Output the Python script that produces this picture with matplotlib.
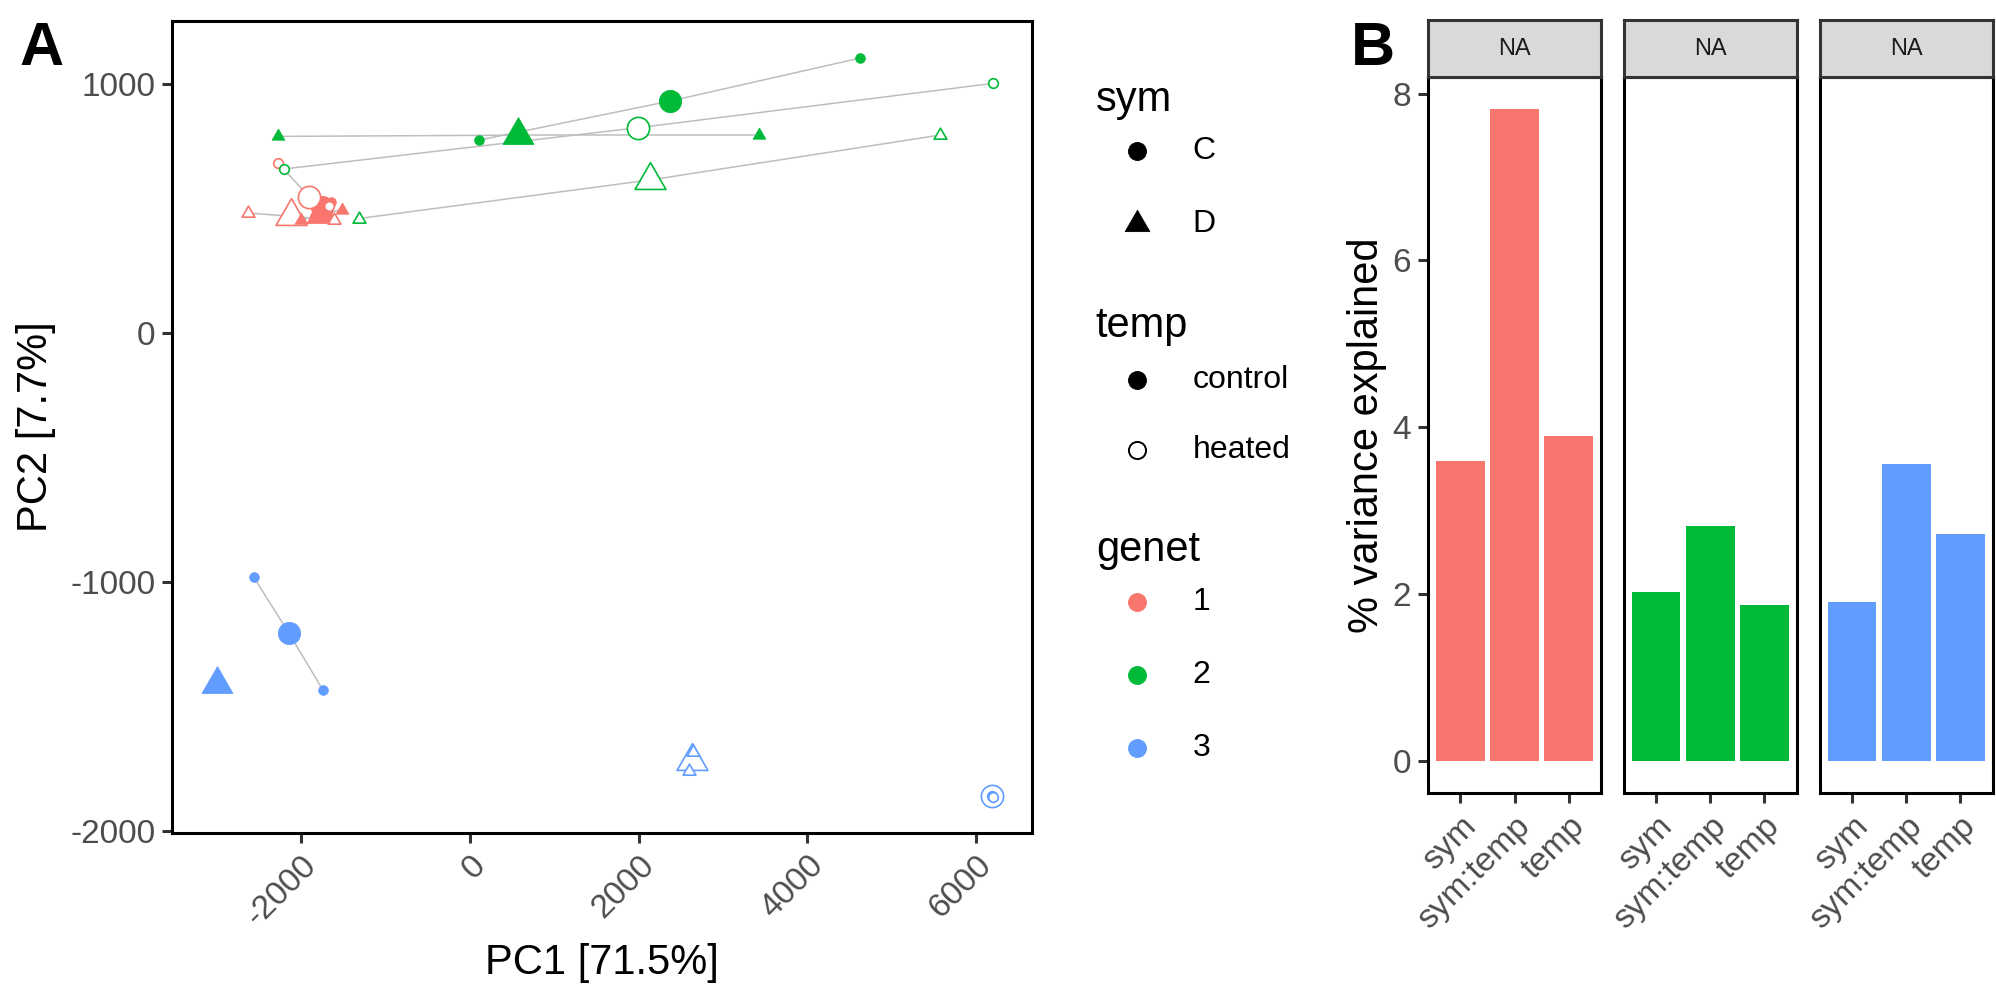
import matplotlib
matplotlib.use("Agg")
import matplotlib.pyplot as plt
from matplotlib.path import Path
import numpy as np

plt.rcParams['font.family'] = ['Liberation Sans', 'DejaVu Sans']

# ---------------- data: panel A ----------------
genet = [1, 1, 1, 1, 2, 2, 2, 2, 3, 3, 3, 3]
sym = ['C', 'C', 'D', 'D'] * 3
temp = ['control', 'heated', 'control', 'heated'] * 3
cent_x = [-1750, -1908, -1754, -2121, 2373, 1998, 575, 2139, -2141, 6190, -2995, 2630]
cent_y = [505, 548, 478, 469, 932, 825, 795, 615, -1208, -1862, -1410, -1722]
s1_x = [-1840, -2268, -1995, -2623, 4627, 6199, 3429, 5566, -2560, 6190, -3040, 2650]
s1_y = [470, 682, 455, 482, 1105, 1003, 795, 795, -982, -1862, -1405, -1683]
s2_x = [-1640, -1667, -1513, -1612, 110, -2205, -2279, -1312, -1738, 6195, -2950, 2600]
s2_y = [525, 511, 495, 454, 775, 659, 790, 460, -1437, -1864, -1415, -1761]

xticks_A = [-2000, 0, 2000, 4000, 6000]
yticks_A = [-2000, -1000, 0, 1000]
xlabel_A = "PC1 [71.5%]"
ylabel_A = "PC2 [7.7%]"

# ---------------- data: panel B ----------------
terms = ["sym", "sym:temp", "temp"]
var_genet1 = [3.59, 7.81, 3.90]
var_genet2 = [2.03, 2.82, 1.87]
var_genet3 = [1.90, 3.56, 2.72]
strip_labels = ["NA", "NA", "NA"]
yticks_B = [0, 2, 4, 6, 8]

genet_colors = {1: '#F8766D', 2: '#00BA38', 3: '#619CFF'}

# legend content
sym_levels = ['C', 'D']
temp_levels = ['control', 'heated']
genet_levels = ['1', '2', '3']

tri = Path([(0, 1), (-0.866, -0.5), (0.866, -0.5), (0, 1)],
           [Path.MOVETO, Path.LINETO, Path.LINETO, Path.CLOSEPOLY])

TICK_COL = '#4D4D4D'
TICK_FS = 12
TITLE_FS = 15
fig = plt.figure(figsize=(9.98, 4.99), dpi=200)

# ---------------- panel A ----------------
ax = fig.add_axes([0.0864, 0.1653, 0.4306, 0.8137])
ax.set_xlim(-3524, 6661)
ax.set_ylim(-2010, 1254)

for i in range(len(genet)):
    for sx, sy in ((s1_x[i], s1_y[i]), (s2_x[i], s2_y[i])):
        ax.plot([cent_x[i], sx], [cent_y[i], sy], color='#BEBEBE', lw=0.55,
                zorder=1, solid_capstyle='butt')


def draw_pt(x, y, g, sh, tp, size_c, size_t, z):
    col = genet_colors[g]
    marker = 'o' if sh == 'C' else tri
    s = size_c if sh == 'C' else size_t
    if tp == 'control':
        ax.scatter([x], [y], s=s, marker=marker, facecolor=col,
                   edgecolor=col, linewidths=0.3, zorder=z)
    else:
        ax.scatter([x], [y], s=s, marker=marker, facecolor='white',
                   edgecolor=col, linewidths=0.6, zorder=z)


for i in range(len(genet)):
    draw_pt(cent_x[i], cent_y[i], genet[i], sym[i], temp[i], 64, 165, 2 + genet[i] * 0.1)
for i in range(len(genet)):
    for sx, sy in ((s1_x[i], s1_y[i]), (s2_x[i], s2_y[i])):
        draw_pt(sx, sy, genet[i], sym[i], temp[i], 12, 28, 3 + genet[i] * 0.1)

ax.set_xticks(xticks_A)
ax.set_xticklabels([str(v) for v in xticks_A], rotation=45, ha='right',
                   va='top', rotation_mode='anchor')
ax.set_yticks(yticks_A)
ax.set_yticklabels([str(v) for v in yticks_A])
ax.tick_params(length=3.6, width=1.1, color='#333333', labelsize=TICK_FS,
               labelcolor=TICK_COL, pad=2.5)
for sp in ax.spines.values():
    sp.set_linewidth(1.1)
    sp.set_color('black')
ax.set_xlabel(xlabel_A, fontsize=TITLE_FS, labelpad=4)
ax.set_ylabel(ylabel_A, fontsize=TITLE_FS, labelpad=5)

# ---------------- legend (panel A) ----------------
lg = fig.add_axes([0, 0, 1, 1])
lg.set_xlim(0, 1)
lg.set_ylim(0, 1)
lg.axis('off')
kx, tx, titx = 0.5695, 0.5975, 0.549
LEG_FS = 11.5
lg.text(titx, 0.900, 'sym', fontsize=TITLE_FS, va='center', ha='left')
for lab, yy, mk, ss in zip(sym_levels, [0.849, 0.776], ['o', tri], [42, 105]):
    lg.scatter([kx], [yy], s=ss, marker=mk, facecolor='black', edgecolor='black', linewidths=0.3)
    lg.text(tx, yy, lab, fontsize=LEG_FS, va='center', ha='left')
lg.text(titx, 0.673, 'temp', fontsize=TITLE_FS, va='center', ha='left')
for lab, yy in zip(temp_levels, [0.619, 0.549]):
    if lab == 'control':
        lg.scatter([kx], [yy], s=42, marker='o', facecolor='black', edgecolor='black', linewidths=0.3)
    else:
        lg.scatter([kx], [yy], s=38, marker='o', facecolor='white', edgecolor='black', linewidths=0.7)
    lg.text(tx, yy, lab, fontsize=LEG_FS, va='center', ha='left')
lg.text(titx, 0.449, 'genet', fontsize=TITLE_FS, va='center', ha='left')
for lab, yy in zip(genet_levels, [0.397, 0.324, 0.251]):
    c = genet_colors[int(lab)]
    lg.scatter([kx], [yy], s=42, marker='o', facecolor=c, edgecolor=c, linewidths=0.3)
    lg.text(tx, yy, lab, fontsize=LEG_FS, va='center', ha='left')

# panel letters
lg.text(0.021, 0.950, 'A', fontsize=22, fontweight='bold', ha='center', va='center')
lg.text(0.688, 0.950, 'B', fontsize=22, fontweight='bold', ha='center', va='center')

# ---------------- panel B ----------------
lefts = [0.7154, 0.8134, 0.9116]
wB = 0.0869
bottomB, topB, stripH = 0.205, 0.923, 0.0565
values = [var_genet1, var_genet2, var_genet3]
cols = [genet_colors[1], genet_colors[2], genet_colors[3]]
xpos = np.arange(1, len(terms) + 1)
for k in range(3):
    axb = fig.add_axes([lefts[k], bottomB, wB, topB - bottomB])
    axb.bar(xpos, values[k], width=0.9, color=cols[k], zorder=2)
    axb.set_xlim(0.4, 3.6)
    axb.set_ylim(-0.39, 8.2)
    axb.set_xticks(xpos)
    axb.set_xticklabels(terms, rotation=45, ha='right', va='top', rotation_mode='anchor')
    axb.set_yticks(yticks_B)
    if k == 0:
        axb.set_yticklabels([str(v) for v in yticks_B])
        axb.set_ylabel("% variance explained", fontsize=TITLE_FS, labelpad=2)
    else:
        axb.tick_params(axis='y', left=False, labelleft=False)
    axb.tick_params(length=3.6, width=1.1, color='#333333', labelsize=TICK_FS,
                    labelcolor=TICK_COL, pad=2.5)
    for sp in axb.spines.values():
        sp.set_linewidth(1.1)
        sp.set_color('black')
    st = fig.add_axes([lefts[k], topB, wB, stripH])
    st.set_facecolor('#D9D9D9')
    st.set_xticks([])
    st.set_yticks([])
    for sp in st.spines.values():
        sp.set_linewidth(1.1)
        sp.set_color('#333333')
    st.text(0.5, 0.5, strip_labels[k], fontsize=8.5, color='#1A1A1A',
            ha='center', va='center', transform=st.transAxes)

fig.savefig('out.png', dpi=200)
